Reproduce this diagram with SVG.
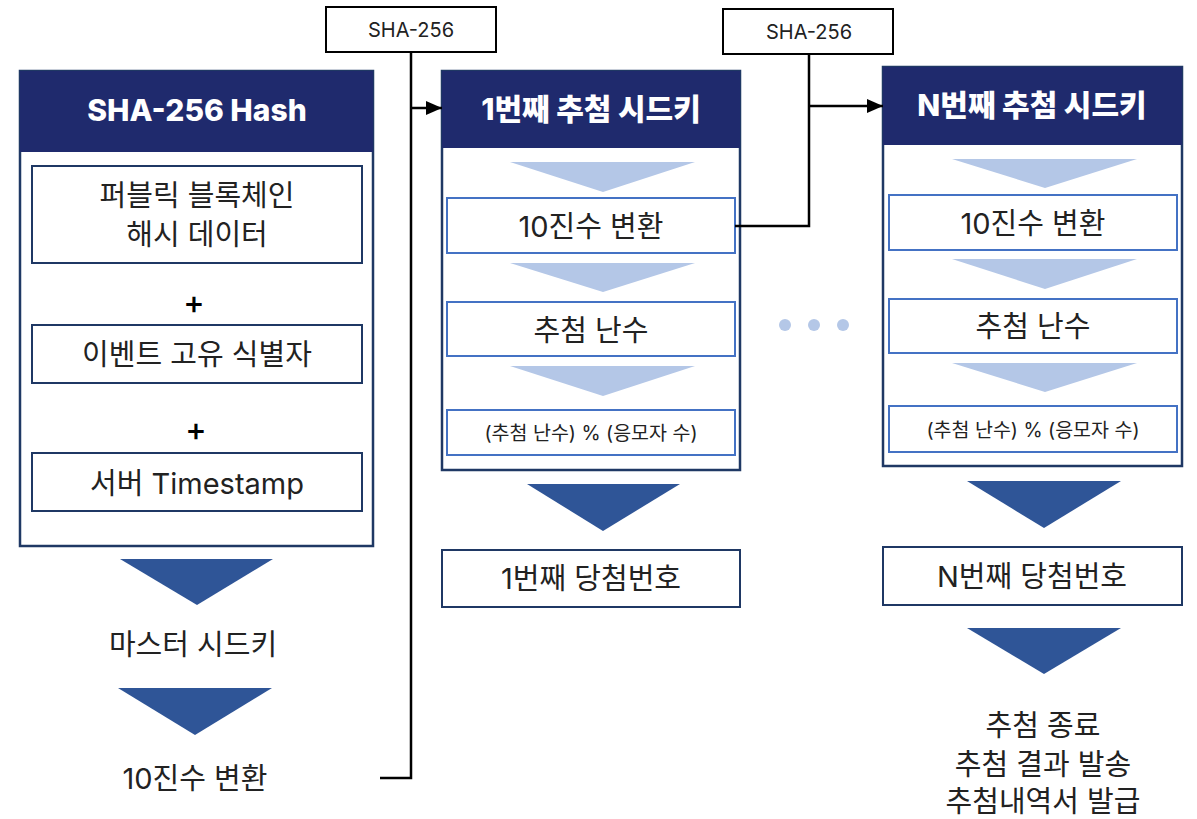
<svg xmlns="http://www.w3.org/2000/svg" width="1197" height="819" viewBox="0 0 1197 819">
<defs>
<style>
text{font-family:Inter,"Noto Sans CJK KR","Noto Sans",sans-serif;fill:#222;text-anchor:middle;dominant-baseline:central}
.hdr{fill:#1F2A6D}
.hdrt{fill:#fff;font-weight:800;font-size:30px}
.panel{fill:#fff;stroke:#1F3864;stroke-width:2.5}
.box{fill:#fff;stroke:#1F3864;stroke-width:2}
.bbox{fill:#fff;stroke:#4472C4;stroke-width:2}
.lt{fill:#B4C7E7}
.dk{fill:#2F5597}
.t26{font-size:29px}
.t17{font-size:19.5px}
.plus{font-size:32px;font-weight:500;fill:#000}
.sha{fill:#fff;stroke:#000;stroke-width:2}
.conn{fill:none;stroke:#000;stroke-width:2.5}
</style>
<marker id="arr" markerWidth="16" markerHeight="16" refX="16" refY="8" orient="auto" markerUnits="userSpaceOnUse" viewBox="0 0 16 16"><path d="M0,1L16,8L0,15z" fill="#000"/></marker>
</defs>

<g id="left-panel">
<rect class="panel" x="20" y="71" width="353" height="475"/>
<rect class="hdr" x="20" y="71" width="353" height="81"/>
<text class="hdrt" x="197" y="110">SHA-256 Hash</text>
<rect class="box" x="32" y="166" width="330" height="97"/>
<text class="t26" x="197" y="195">퍼블릭 블록체인</text>
<text class="t26" x="197" y="234">해시 데이터</text>
<text class="plus" x="194" y="302">+</text>
<rect class="box" x="32" y="325" width="330" height="58"/>
<text class="t26" x="197" y="354">이벤트 고유 식별자</text>
<text class="plus" x="196" y="429">+</text>
<rect class="box" x="32" y="453" width="330" height="58"/>
<text class="t26" x="197" y="483">서버 Timestamp</text>
</g>

<g id="left-flow">
<polygon class="dk" points="120,559 273,559 197,605"/>
<text class="t26" x="193" y="644">마스터 시드키</text>
<polygon class="dk" points="118,688 272,688 195,735"/>
<text class="t26" x="195" y="778">10진수 변환</text>
</g>

<g id="sha1">
<rect class="sha" x="326" y="7" width="170" height="45"/>
<text x="411" y="30" font-size="20">SHA-256</text>
</g>

<g id="sha2">
<rect class="sha" x="723" y="9" width="170" height="45"/>
<text x="809" y="32" font-size="20">SHA-256</text>
</g>

<g id="mid-panel">
<rect class="panel" x="442" y="71" width="298" height="399"/>
<rect class="hdr" x="442" y="71" width="298" height="77"/>
<text class="hdrt" x="591" y="109">1번째 추첨 시드키</text>
<polygon class="lt" points="510,162 695,162 603,192"/>
<rect class="bbox" x="447" y="198" width="288" height="55"/>
<text class="t26" x="591" y="226">10진수 변환</text>
<polygon class="lt" points="510,263 695,263 603,292"/>
<rect class="bbox" x="447" y="302" width="288" height="54"/>
<text class="t26" x="591" y="330">추첨 난수</text>
<polygon class="lt" points="510,366 695,366 603,396"/>
<rect class="bbox" x="447" y="410" width="288" height="45"/>
<text class="t17" x="591" y="433">(추첨 난수) % (응모자 수)</text>
</g>

<g id="mid-result">
<polygon class="dk" points="527,484 680,484 603,531"/>
<rect class="box" x="442" y="550" width="298" height="57"/>
<text class="t26" x="591" y="578">1번째 당첨번호</text>
</g>

<g id="dots">
<circle class="lt" cx="785" cy="325" r="6"/>
<circle class="lt" cx="814" cy="325" r="6"/>
<circle class="lt" cx="843" cy="325" r="6"/>
</g>

<g id="right-panel">
<rect class="panel" x="883" y="67" width="299" height="399"/>
<rect class="hdr" x="883" y="67" width="299" height="78"/>
<text class="hdrt" x="1032" y="105">N번째 추첨 시드키</text>
<polygon class="lt" points="952,159 1137,159 1045,188"/>
<rect class="bbox" x="889" y="195" width="288" height="55"/>
<text class="t26" x="1033" y="223">10진수 변환</text>
<polygon class="lt" points="952,259 1137,259 1045,289"/>
<rect class="bbox" x="889" y="299" width="288" height="54"/>
<text class="t26" x="1033" y="326">추첨 난수</text>
<polygon class="lt" points="952,363 1137,363 1045,392"/>
<rect class="bbox" x="889" y="406" width="288" height="46"/>
<text class="t17" x="1033" y="430">(추첨 난수) % (응모자 수)</text>
</g>

<g id="right-result">
<polygon class="dk" points="967,481 1121,481 1044,528"/>
<rect class="box" x="883" y="547" width="299" height="58"/>
<text class="t26" x="1032" y="576">N번째 당첨번호</text>
<polygon class="dk" points="967,628 1121,628 1044,674"/>
<text class="t26" x="1043" y="725">추첨 종료</text>
<text class="t26" x="1043" y="764">추첨 결과 발송</text>
<text class="t26" x="1043" y="801">추첨내역서 발급</text>
</g>

<g id="connectors">
<path class="conn" d="M380,778H411V52"/>
<path class="conn" d="M411,108H442" marker-end="url(#arr)"/>
<path class="conn" d="M735,226H809V54"/>
<path class="conn" d="M809,106H883" marker-end="url(#arr)"/>
</g>
</svg>
